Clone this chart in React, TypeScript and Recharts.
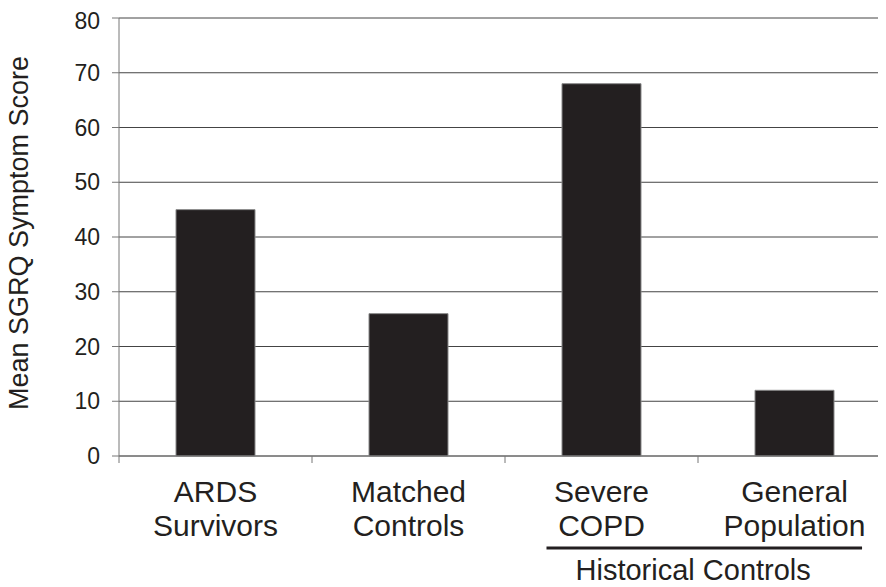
import React from "react";
import { BarChart, Bar, CartesianGrid, XAxis, YAxis } from "recharts";

const groups = ["ARDS Survivors", "Matched Controls", "Severe COPD", "General Population"];
const labelTop = ["ARDS", "Matched", "Severe", "General"];
const labelBottom = ["Survivors", "Controls", "COPD", "Population"];
const scores = [45, 26, 68, 12];
const yTicks = [0, 10, 20, 30, 40, 50, 60, 70, 80];
const bracketTitle = "Historical Controls";
const bracketFrom = 2;

const data = groups.map((g, i) => ({ group: g, score: scores[i] }));

const FONT = "'Liberation Sans', Arial, Helvetica, sans-serif";
const INK = "#231f20";

const CategoryTick = (props: any) => {
	const { x, y, payload, index, visibleTicksCount } = props;
	const half = payload.offset;
	const top = y;
	return (
		<g>
			<line x1={x - half} x2={x - half} y1={top - 8} y2={top - 1} stroke="#777" />
			{index === visibleTicksCount - 1 && (
				<line x1={x + half} x2={x + half} y1={top - 8} y2={top - 1} stroke="#777" />
			)}
			<text x={x} y={top + 38} textAnchor="middle" fontFamily={FONT} fontSize={30} fill={INK}>
				{labelTop[index]}
			</text>
			<text x={x} y={top + 72} textAnchor="middle" fontFamily={FONT} fontSize={30} fill={INK}>
				{labelBottom[index]}
			</text>
			{index === bracketFrom && (
				<g>
					<line
						x1={x - half * 0.57}
						x2={x + half * 2.7}
						y1={top + 84}
						y2={top + 84}
						stroke={INK}
						strokeWidth={3}
					/>
					<text x={x + half * 0.95} y={top + 116} textAnchor="middle" fontFamily={FONT} fontSize={29} fill={INK}>
						{bracketTitle}
					</text>
				</g>
			)}
		</g>
	);
};

const YTitle = (props: any) => {
	const { viewBox } = props;
	const cx = viewBox.x + 20;
	const cy = viewBox.y + viewBox.height / 2 - 4;
	return (
		<text
			x={cx}
			y={cy}
			transform={`rotate(-90 ${cx} ${cy})`}
			textAnchor="middle"
			fontFamily={FONT}
			fontSize={27}
			fill={INK}
		>
			Mean SGRQ Symptom Score
		</text>
	);
};

const App = () => {
	return (
		<div style={{ width: 886, height: 579, overflow: "hidden", marginLeft: -8 }}>
			<BarChart
				width={891}
				height={579}
				data={data}
				margin={{ top: 10, right: 0, bottom: 0, left: 8 }}
			>
				<CartesianGrid vertical={false} stroke="#444" />
				<XAxis
					dataKey="group"
					height={131}
					stroke="#777"
					tickLine={false}
					tick={<CategoryTick />}
					interval={0}
				/>
				<YAxis
					domain={[0, 80]}
					ticks={yTicks}
					width={111}
					stroke="#777"
					tickSize={7}
					tickMargin={12}
					tick={{ fill: INK, fontSize: 23, fontFamily: FONT }}
					label={<YTitle />}
				/>
				<Bar
					dataKey="score"
					fill={INK}
					stroke="#888"
					strokeWidth={1}
					barSize={79}
					isAnimationActive={false}
				/>
			</BarChart>
		</div>
	);
};

export default App;
